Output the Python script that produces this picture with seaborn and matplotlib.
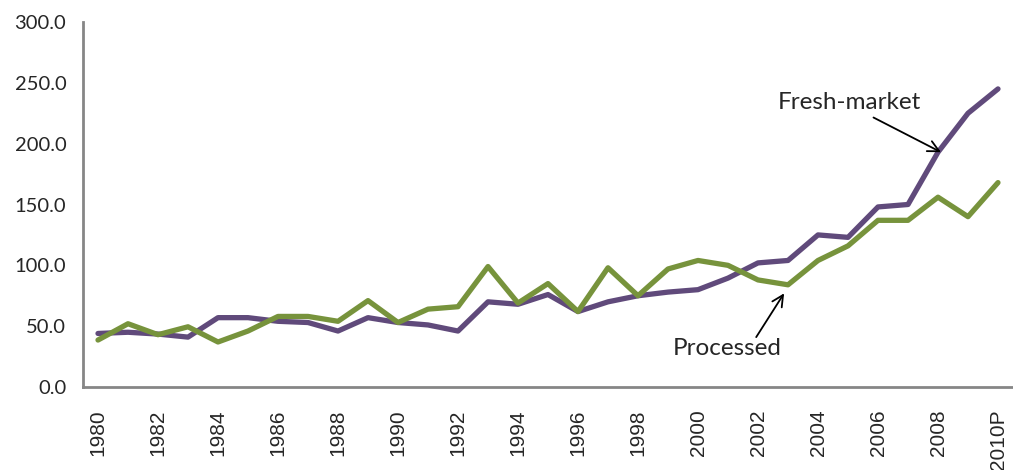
import matplotlib
matplotlib.use("Agg")
import matplotlib.pyplot as plt
import seaborn as sns
import numpy as np
import pandas as pd

# Values
years = [str(y) for y in range(1980, 2010)] + ["2010P"]
fresh_market = [44, 45, 43.5, 41, 57, 57, 54, 53, 46, 57,
                53, 51, 46, 70, 68, 76, 62, 70, 75, 78,
                80, 89.5, 102, 104, 125, 123, 148, 150, 193, 225, 245]
processed = [38.6, 52, 43, 49.5, 37, 46, 58, 58, 54, 71,
             53, 64, 66, 99, 69, 85, 62, 98, 75, 97,
             104, 100, 88, 84, 104, 116, 137, 137, 156, 140, 168]

df = pd.DataFrame({"pos": np.arange(len(years)),
                   "Fresh-market": fresh_market,
                   "Processed": processed})

sns.set_style("white")
plt.rcParams["font.family"] = ["Lato", "DejaVu Sans"]

fig = plt.figure(figsize=(10.13, 4.70), dpi=100)
ax = fig.add_axes([83 / 1013, 1 - 387 / 470, 930 / 1013, (387 - 22) / 470])

sns.lineplot(data=df, x="pos", y="Fresh-market", color="#604a7b", lw=3.8, ax=ax)
sns.lineplot(data=df, x="pos", y="Processed", color="#77933c", lw=3.8, ax=ax)

ax.set_xlim(-0.5, 30.33)
ax.set_ylim(0, 300)
ax.set_xlabel("")
ax.set_ylabel("")

ax.set_yticks(np.arange(0, 301, 50))
ax.set_yticklabels([f"{v:.1f}" for v in np.arange(0, 301, 50)], fontsize=14.5)

ax.set_xticks(np.arange(0, len(years), 2))
ax.set_xticklabels(years[::2], rotation=90, fontsize=15, family="Liberation Sans")
ax.set_xticks(np.arange(-0.5, len(years), 1), minor=True)
ax.tick_params(axis="x", which="major", length=0, pad=16)
ax.tick_params(axis="x", which="minor", length=6, width=1.2, color="#868686")
ax.tick_params(axis="y", length=6, width=1.2, color="#868686", pad=6)

for side in ["top", "right"]:
    ax.spines[side].set_visible(False)
for side in ["left", "bottom"]:
    ax.spines[side].set_color("#868686")
    ax.spines[side].set_linewidth(2)

arrow = dict(arrowstyle="->", color="black", lw=1.3, shrinkA=0, shrinkB=0,
             mutation_scale=20)
ax.text(25.03, 234, "Fresh-market", fontsize=17.5, ha="center", va="center")
ax.annotate("", xy=(28.1, 193), xytext=(25.85, 221.5), arrowprops=arrow)
ax.text(20.98, 32, "Processed", fontsize=17.5, ha="center", va="center")
ax.annotate("", xy=(22.87, 77), xytext=(21.94, 41), arrowprops=arrow)

fig.savefig("out.png", dpi=100)
